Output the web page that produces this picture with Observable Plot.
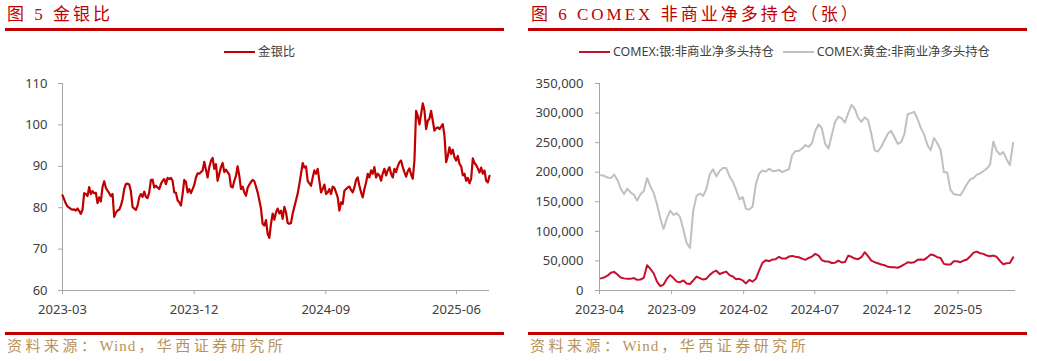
<!DOCTYPE html>
<html>
<head>
<meta charset="utf-8">
<script src="https://cdn.jsdelivr.net/npm/d3@7"></script>
<script src="https://cdn.jsdelivr.net/npm/@observablehq/plot@0.6"></script>
<style>
  html, body { margin: 0; padding: 0; background: #fff; }
  #page { position: relative; width: 1037px; height: 361px; overflow: hidden; background: #fff; }
  .title { position: absolute; top: 4px; font-family: "Liberation Serif", "Noto Sans CJK SC", serif; font-size: 17px; letter-spacing: 3px; color: #c00000; white-space: nowrap; line-height: 22px; }
  .rule { position: absolute; background: #c00000; }
  .source { position: absolute; top: 337px; font-family: "Liberation Serif", "Noto Sans CJK SC", serif; font-size: 15px; color: #b8925a; white-space: nowrap; line-height: 18px; }
  .source .cj { letter-spacing: 3.5px; }
  .source .lt { letter-spacing: 1px; margin-right: 2px; }
  .legend { position: absolute; top: 44px; font-family: "Noto Sans", "Noto Sans CJK SC", sans-serif; font-size: 12.4px; color: #404040; white-space: nowrap; line-height: 16px; display: flex; align-items: center; }
  .swatch { display: inline-block; width: 31px; height: 2.5px; margin-right: 3px; }
  .chart { position: absolute; top: 60px; }
</style>
</head>
<body>
<div id="page">
  <div class="title" style="left:7px">图 5 金银比</div>
  <div class="rule" style="left:5px; top:28px; width:499px; height:2.5px"></div>
  <div class="title" style="left:531px">图 6 COMEX 非商业净多持仓（张）</div>
  <div class="rule" style="left:528px; top:28px; width:499px; height:2.5px"></div>

  <div class="legend" style="left:224px"><span class="swatch" style="background:#c00000"></span>金银比</div>
  <div class="legend" style="left:579px"><span class="swatch" style="background:#c8102e"></span>COMEX:银:非商业净多头持仓<span class="swatch" style="background:#c0c0c0; margin-left:9px"></span>COMEX:黄金:非商业净多头持仓</div>

  <div id="left" class="chart" style="left:0px"></div>
  <div id="right" class="chart" style="left:520px"></div>

  <div class="rule" style="left:5px; top:332px; width:499px; height:3px"></div>
  <div class="source" style="left:7px"><span class="cj">资料来源：</span><span class="lt">Wind</span><span class="cj">，华西证券研究所</span></div>
  <div class="rule" style="left:528px; top:332px; width:499px; height:3px"></div>
  <div class="source" style="left:530px"><span class="cj">资料来源：</span><span class="lt">Wind</span><span class="cj">，华西证券研究所</span></div>
</div>
<script>
// ---------- Figure 5: gold/silver ratio (sampled roughly every 3.5 days) ----------
const ratioStart = "2023-03-01";
const ratioEnd = "2025-08-09";
const goldSilverRatio = [
  83, 82, 81, 80.3, 80, 79.7, 79.5, 79.6, 79.3, 79.8, 79.2, 78.5, 79.5, 83.5, 83.3, 82.8, 85, 83.3, 84, 83.5,
  83.6, 81.1, 82.5, 81.5, 85, 86.4, 84.8, 84.1, 83.5, 82.8, 83.3, 77.8, 78.8, 79.3, 79.5, 80.5, 82, 84.5, 85.7, 85.8,
  85.6, 84, 80.2, 79.8, 79.5, 80.5, 82.5, 83.3, 82.6, 83.9, 82.6, 82.3, 83.7, 86.7, 86.8, 84.9, 85.3, 84.9, 84.5, 85.7,
  86.5, 86.9, 85.7, 87.2, 86.9, 87.2, 86.5, 83.7, 83.6, 81.8, 81.3, 80.5, 83.3, 86.7, 86.2, 83.7, 84.5, 83.5, 84.5, 85.5,
  87.3, 88.3, 88.2, 88.6, 89, 91.1, 89.2, 87.3, 89.8, 91.3, 92, 89.4, 90.5, 86.5, 88.2, 89.8, 90.8, 88.6, 89.2, 88.6,
  88, 85.1, 84.9, 86.5, 87.7, 90, 87.7, 84.5, 85.1, 83.7, 82.9, 84.8, 85.6, 86.2, 86.7, 86.4, 85.1, 83.7, 81.8, 79.8,
  76.1, 75.7, 77, 73.7, 72.7, 76.1, 78.6, 77.1, 78.9, 79.8, 78.6, 79.3, 77.3, 80.2, 78.9, 76.3, 76.1, 76.3, 78.6, 80.2,
  81.8, 83.4, 85.7, 88.2, 90.8, 89.7, 90, 86.5, 85.9, 85.3, 87.3, 89, 88.2, 89.4, 86.5, 83.7, 84.5, 85.6, 83.3, 83.7,
  84.5, 83.3, 85.1, 84.8, 83.7, 82.5, 79.3, 81.3, 80.9, 84.1, 84.5, 84.9, 85.1, 84.3, 83.7, 84.9, 86.7, 87.3, 85.3, 83.7,
  82.5, 84.5, 86.1, 88.2, 87.3, 89, 88.2, 89.8, 87.3, 88.2, 87.8, 86.5, 88.3, 89.4, 87.8, 89, 89.8, 88.2, 87.3, 89.4,
  88.6, 90, 91, 91.4, 89.8, 88.6, 87.5, 88.8, 89.5, 88, 87, 91.4, 103.4, 102.2, 100.1, 102.6, 105.2, 103.5, 99, 101,
  101.5, 103.4, 101, 98.6, 99.2, 99.4, 99, 99.6, 100.2, 97.4, 91, 92.5, 94.6, 93, 94, 92.2, 91.4, 92.5, 90.6, 90,
  87.8, 88.2, 86.5, 87.2, 85.9, 87, 91.9, 90.8, 90.3, 89.5, 88.5, 89.7, 88.2, 89, 86.5, 86.1, 87.7
];
const ratioYTicks = [60, 70, 80, 90, 100, 110];
const ratioXTicks = ["2023-03-01", "2023-12-01", "2024-09-01", "2025-06-01"];

// ---------- Figure 6: COMEX non-commercial net long (weekly) ----------
const cotStart = "2023-04-04";
const cotEnd = "2025-08-31";
const silverNetLong = [
  20500, 22000, 25000, 30000, 31500, 27000, 22000, 20500, 19700, 19700, 21000, 18000, 18600, 21400, 42800, 36600, 29000, 15000, 7500, 10000,
  20000, 26000, 21000, 15000, 14000, 17000, 12000, 11000, 17000, 23600, 21000, 18500, 20000, 26400, 31000, 33500, 28000, 30000, 32000, 26000,
  23600, 19000, 19700, 17000, 12000, 18000, 15000, 20000, 34000, 47000, 51000, 49500, 52300, 53000, 57000, 54000, 54000, 57400, 58500, 57000,
  56300, 54000, 51800, 55000, 57400, 61900, 59000, 51500, 49000, 49000, 46500, 47000, 50600, 47500, 48000, 59000, 57000, 54000, 52900, 56300,
  64700, 58000, 50600, 47800, 46000, 43900, 42800, 40000, 39400, 39400, 38500, 41000, 44000, 47800, 47000, 47800, 51800, 52300, 51800, 56000,
  61000, 59500, 56300, 55000, 45000, 43900, 44000, 49500, 49500, 47800, 50600, 52300, 58000, 64000, 65800, 63000, 61900, 59000, 58000, 59000,
  57000, 50000, 44500, 46000, 46500, 56000
];
const goldNetLong = [
  195000, 194000, 191000, 190000, 196000, 187000, 172000, 163000, 172000, 166000, 162000, 152000, 163000, 168000, 190000, 176000, 165000, 146000, 122000, 104000,
  122000, 135000, 128000, 131000, 124000, 103000, 80000, 72000, 135000, 160000, 164000, 160000, 172000, 196000, 205000, 193000, 202000, 207000, 207000, 193000,
  184000, 170000, 154000, 158000, 138000, 137000, 142000, 180000, 198000, 203000, 201000, 206000, 202000, 202000, 204000, 200000, 203000, 205000, 229000, 236000,
  236000, 240000, 246000, 243000, 249000, 270000, 281000, 274000, 248000, 240000, 263000, 285000, 294000, 291000, 284000, 300000, 314000, 307000, 292000, 285000,
  293000, 288000, 265000, 237000, 235000, 243000, 254000, 265000, 270000, 259000, 248000, 251000, 264000, 298000, 300000, 302000, 290000, 275000, 264000, 246000,
  237000, 258000, 249000, 238000, 200000, 200000, 170000, 163000, 162000, 161000, 170000, 180000, 188000, 190000, 196000, 198000, 202000, 206000, 213000, 252000,
  236000, 230000, 234000, 222000, 212000, 250000
];
const cotYTicks = [0, 50000, 100000, 150000, 200000, 250000, 300000, 350000];
const cotXTicks = ["2023-04-01", "2023-09-01", "2024-02-01", "2024-07-01", "2024-12-01", "2025-05-01"];
const silverColor = "#c8102e";
const goldColor = "#c0c0c0";

// ---------- build tables ----------
const parse = d3.utcParse("%Y-%m-%d");
const rStart = parse(ratioStart), rEnd = parse(ratioEnd);
const rStep = (rEnd - rStart) / (goldSilverRatio.length - 1);
const ratioData = goldSilverRatio.map((v, i) => ({date: new Date(+rStart + i * rStep), value: v}));

const cStart = parse(cotStart);
const silverData = silverNetLong.map((v, i) => ({date: d3.utcDay.offset(cStart, 7 * i), value: v}));
const goldData = goldNetLong.map((v, i) => ({date: d3.utcDay.offset(cStart, 7 * i), value: v}));

const axisFont = {fontFamily: "'Noto Sans', 'Open Sans', sans-serif", fontSize: "13px", color: "#404040", background: "transparent", overflow: "visible"};
const axisGray = "#a6a6a6";

// ---------- left chart ----------
const left = Plot.plot({
  width: 520, height: 260,
  marginLeft: 62, marginRight: 31, marginTop: 23, marginBottom: 30,
  style: axisFont,
  x: {type: "utc", domain: [rStart, rEnd]},
  y: {domain: [60, 110]},
  marks: [
    Plot.ruleX([rStart], {stroke: axisGray, strokeWidth: 1}),
    Plot.ruleY([60], {stroke: axisGray, strokeWidth: 1}),
    Plot.axisY(ratioYTicks, {tickSize: 4, tickPadding: 11, stroke: axisGray, fill: "#404040", label: null}),
    Plot.axisX(ratioXTicks.map(parse), {tickSize: 4, tickPadding: 10, stroke: axisGray, fill: "#404040", tickFormat: d3.utcFormat("%Y-%m"), label: null}),
    Plot.line(ratioData, {x: "date", y: "value", stroke: "#c00000", strokeWidth: 2.2})
  ]
});
document.getElementById("left").appendChild(left);

// ---------- right chart ----------
const right = Plot.plot({
  width: 517, height: 260,
  marginLeft: 79, marginRight: 22, marginTop: 23, marginBottom: 30,
  style: axisFont,
  x: {type: "utc", domain: [parse("2023-04-01"), parse(cotEnd)]},
  y: {domain: [0, 350000]},
  marks: [
    Plot.ruleX([parse("2023-04-01")], {stroke: axisGray, strokeWidth: 1}),
    Plot.ruleY([0], {stroke: axisGray, strokeWidth: 1}),
    Plot.axisY(cotYTicks, {tickSize: 4, tickPadding: 12, stroke: axisGray, fill: "#404040", tickFormat: d3.format(","), label: null}),
    Plot.axisX(cotXTicks.map(parse), {tickSize: 4, tickPadding: 10, stroke: axisGray, fill: "#404040", tickFormat: d3.utcFormat("%Y-%m"), label: null}),
    Plot.line(goldData, {x: "date", y: "value", stroke: goldColor, strokeWidth: 2}),
    Plot.line(silverData, {x: "date", y: "value", stroke: silverColor, strokeWidth: 2})
  ]
});
document.getElementById("right").appendChild(right);
</script>
</body>
</html>
